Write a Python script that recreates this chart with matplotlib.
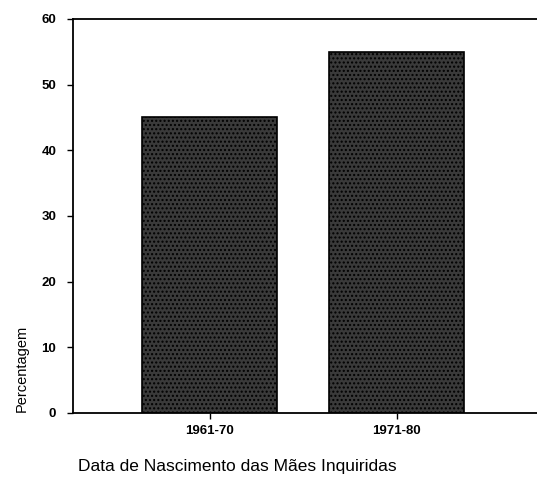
import matplotlib.pyplot as plt

plt.rcParams['font.family'] = ['Liberation Sans', 'DejaVu Sans']
plt.rcParams['hatch.color'] = '#8a8a8a'

periodos = ['1961-70', '1971-80']
percentagem = [45, 55]

fig = plt.figure(figsize=(5.37, 4.83), dpi=100)
ax = fig.add_axes([0.136, 0.145, 0.864, 0.816])

x = range(len(periodos))
ax.bar(x, percentagem, width=0.72, color='#3a3a3a', edgecolor='black',
       linewidth=1.2, hatch='....', zorder=2)

ax.set_xlim(-0.73, 1.75)
ax.set_ylim(0, 60)
ax.set_yticks(range(0, 61, 10))
ax.set_xticks(list(x))
ax.set_xticklabels(periodos, fontsize=9.5, fontweight='bold')
for t in ax.get_yticklabels():
    t.set_fontsize(9.5)
    t.set_fontweight('bold')
ax.tick_params(axis='y', length=4, width=1, pad=8)
ax.tick_params(axis='x', length=4, width=1, pad=5)

ax.spines['right'].set_visible(False)
for s in ['left', 'top', 'bottom']:
    ax.spines[s].set_linewidth(1.3)

fig.text(0.041, 0.238, 'Percentagem', rotation=90, fontsize=10.5,
         ha='center', va='center')
fig.text(0.145, 0.018, 'Data de Nascimento das Mães Inquiridas', fontsize=12.5,
         ha='left', va='bottom')

fig.savefig('out.png', dpi=100)
